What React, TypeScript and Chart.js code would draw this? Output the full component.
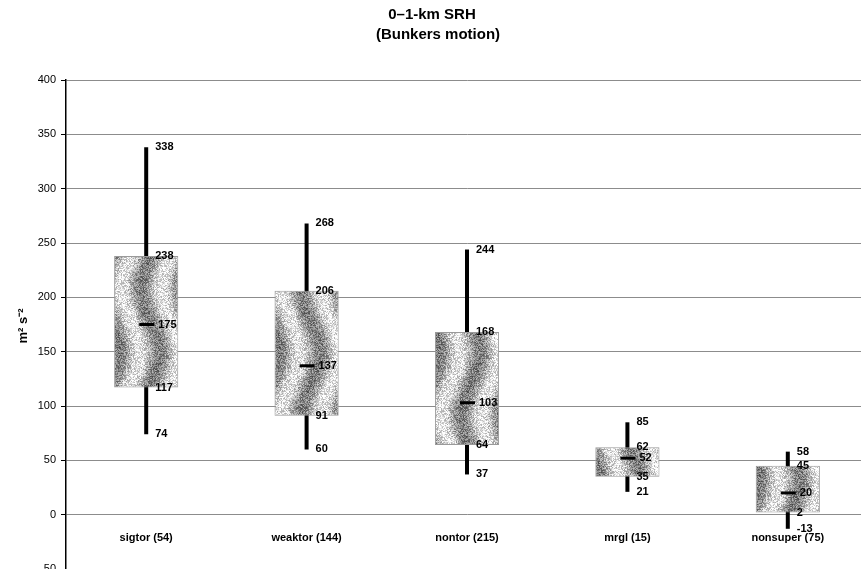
import React, { useEffect, useRef } from "react";
import { Chart, registerables } from "chart.js";

Chart.register(...registerables);

const categories = ["sigtor (54)", "weaktor (144)", "nontor (215)", "mrgl (15)", "nonsuper (75)"];
const whiskerMin = [74, 60, 37, 21, -13];
const quartile1 = [117, 91, 64, 35, 2];
const medians = [175, 137, 103, 52, 20];
const quartile3 = [238, 206, 168, 62, 45];
const whiskerMax = [338, 268, 244, 85, 58];
const titleLines = ["0–1-km SRH", "(Bunkers motion)"];
const yAxisLabel = "m² s⁻²";
const yMin = -50;
const yMax = 400;
const yStep = 50;

const FONT = "'Liberation Sans', Arial, Helvetica, sans-serif";

function hash(x: number, y: number): number {
  let h = (x * 374761393 + y * 668265263) | 0;
  h = (h ^ (h >>> 13)) * 1274126177;
  h = h ^ (h >>> 16);
  return ((h >>> 0) % 1000) / 1000;
}

function makeStipplePattern(): CanvasPattern | string {
  const W = 80;
  const H = 128;
  const c = document.createElement("canvas");
  c.width = W;
  c.height = H;
  const ctx = c.getContext("2d");
  if (!ctx) return "#aaaaaa";
  const img = ctx.createImageData(W, H);
  for (let y = 0; y < H; y++) {
    for (let x = 0; x < W; x++) {
      const phase = (x + 9 * Math.sin((2 * Math.PI * y) / H)) / 40;
      const t = 0.5 + 0.5 * Math.sin(2 * Math.PI * phase);
      const base = 125 + t * 105;
      const n = hash(x, y);
      let g = base + (n - 0.5) * 110;
      g = Math.max(50, Math.min(255, g));
      const i = (y * W + x) * 4;
      img.data[i] = g;
      img.data[i + 1] = g;
      img.data[i + 2] = g;
      img.data[i + 3] = 255;
    }
  }
  ctx.putImageData(img, 0, 0);
  return ctx.createPattern(c, "repeat") || "#aaaaaa";
}

const boxExtras = {
  id: "boxExtras",
  beforeDatasetsDraw(chart: any) {
    const { ctx, scales } = chart;
    const x = scales.x;
    const y = scales.y;
    ctx.save();
    ctx.strokeStyle = "#000";
    ctx.lineWidth = 4;
    categories.forEach((_, i) => {
      const cx = x.getPixelForValue(i);
      ctx.beginPath();
      ctx.moveTo(cx, y.getPixelForValue(whiskerMax[i]));
      ctx.lineTo(cx, y.getPixelForValue(whiskerMin[i]));
      ctx.stroke();
    });
    ctx.restore();
  },
  afterDatasetsDraw(chart: any) {
    const { ctx, scales } = chart;
    const x = scales.x;
    const y = scales.y;
    ctx.save();
    categories.forEach((_, i) => {
      const cx = x.getPixelForValue(i);
      const my = y.getPixelForValue(medians[i]);
      ctx.fillStyle = "#000";
      ctx.fillRect(cx - 7, my - 1.5, 15, 3);
      ctx.font = `bold 11px ${FONT}`;
      ctx.textAlign = "left";
      ctx.textBaseline = "middle";
      const items: [number, number][] = [
        [whiskerMax[i], 9],
        [quartile3[i], 9],
        [medians[i], 12],
        [quartile1[i], 9],
        [whiskerMin[i], 9],
      ];
      items.forEach(([v, dx]) => {
        ctx.fillText(String(v), cx + dx, y.getPixelForValue(v));
      });
    });
    ctx.restore();
  },
  afterDraw(chart: any) {
    const { ctx } = chart;
    ctx.save();
    ctx.fillStyle = "#000";
    ctx.textAlign = "center";
    ctx.textBaseline = "middle";
    ctx.font = `bold 15px ${FONT}`;
    ctx.fillText(titleLines[0], 432, 15);
    ctx.fillText(titleLines[1], 438, 35);
    ctx.translate(23, 326);
    ctx.rotate(-Math.PI / 2);
    ctx.font = `bold 13px ${FONT}`;
    ctx.fillText(yAxisLabel, 0, 0);
    ctx.restore();
  },
};

export default function App() {
  const ref = useRef<HTMLCanvasElement | null>(null);
  useEffect(() => {
    if (!ref.current) return;
    const pattern = makeStipplePattern();
    const chart = new Chart(ref.current, {
      type: "bar",
      data: {
        labels: categories,
        datasets: [
          {
            label: "box",
            data: categories.map((_, i) => [quartile1[i], quartile3[i]]) as any,
            backgroundColor: pattern as any,
            borderColor: "#9a9a9a",
            borderWidth: 1,
            borderSkipped: false,
            categoryPercentage: 1,
            barPercentage: 0.4,
          },
        ],
      },
      options: {
        responsive: false,
        animation: false,
        layout: { padding: { top: 80, right: 12, bottom: 21, left: 0 } },
        plugins: {
          legend: { display: false },
          title: { display: false },
          tooltip: { enabled: false },
        },
        scales: {
          x: {
            position: { y: 0 } as any,
            offset: true,
            grid: { display: false },
            border: { display: false },
            ticks: {
              color: "#000",
              padding: 9,
              font: { family: FONT, size: 11, weight: "bold" },
              maxRotation: 0,
              autoSkip: false,
            },
          },
          y: {
            min: yMin,
            max: yMax,
            afterFit: (s: any) => {
              s.width = 66;
            },
            grid: {
              color: "#8c8c8c",
              lineWidth: 1,
              tickLength: 5,
              tickColor: "#000",
            },
            border: { color: "#000", width: 1.5 },
            ticks: {
              stepSize: yStep,
              color: "#000",
              padding: 5,
              font: { family: FONT, size: 11 },
            },
          },
        },
      },
      plugins: [boxExtras],
    });
    return () => chart.destroy();
  }, []);
  return (
    <div style={{ position: "fixed", left: 0, top: 0, width: 880, height: 590 }}>
      <canvas ref={ref} width={880} height={590} />
    </div>
  );
}
